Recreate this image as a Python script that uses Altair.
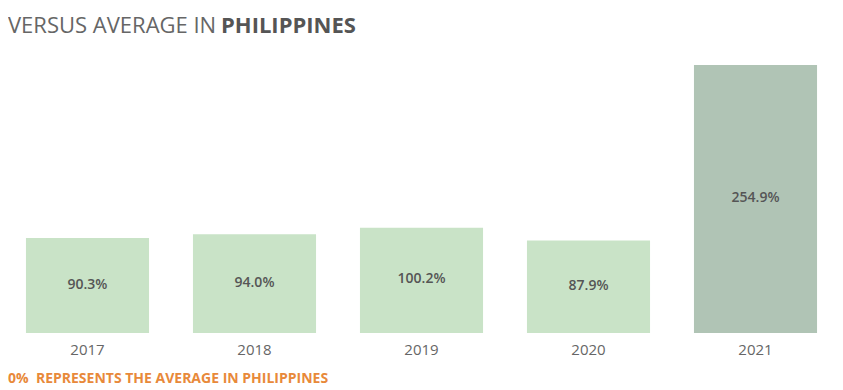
import altair as alt
import pandas as pd

years = ["2017", "2018", "2019", "2020", "2021"]
values = [90.3, 94.0, 100.2, 87.9, 254.9]
labels = ["90.3%", "94.0%", "100.2%", "87.9%", "254.9%"]

title_light = "VERSUS AVERAGE IN"
title_bold = "PHILIPPINES"
footer = "0%\u00a0\u00a0REPRESENTS THE AVERAGE IN PHILIPPINES"

df = pd.DataFrame({"year": years, "value": values, "label": labels})

FONT = "Open Sans"

x = alt.X("year:N", title=None,
          scale=alt.Scale(paddingInner=0.263, paddingOuter=0.0596),
          axis=alt.Axis(domain=False, ticks=False, labelAngle=0, labelPadding=9,
                        labelFont=FONT, labelFontSize=15, labelColor="#666666"))
yscale = alt.Scale(domain=[0, 309.1], nice=False, zero=True)

base = alt.Chart(df)

bars = base.mark_bar().encode(
    x=x,
    y=alt.Y("value:Q", scale=yscale, axis=None),
    color=alt.condition(alt.datum.year == "2021", alt.value("#b0c4b5"), alt.value("#c9e3c7")),
)

text = base.transform_calculate(mid="datum.value / 2").mark_text(
    font=FONT, fontSize=14, fontWeight=600, color="#555555", baseline="middle", dy=-1
).encode(
    x=x,
    y=alt.Y("mid:Q", scale=yscale, axis=None),
    text="label:N",
)

t1 = alt.Chart(pd.DataFrame({"t": [title_light]})).mark_text(
    font=FONT, fontSize=22, fontWeight=400, color="#666666", align="left", baseline="alphabetic"
).encode(x=alt.value(-8), y=alt.value(25), text="t:N")

t2 = alt.Chart(pd.DataFrame({"t": [title_bold]})).mark_text(
    font=FONT, fontSize=22, fontWeight="bold", color="#555555", align="left", baseline="alphabetic"
).encode(x=alt.value(205), y=alt.value(25), text="t:N")

t3 = alt.Chart(pd.DataFrame({"t": [footer]})).mark_text(
    font=FONT, fontSize=14, fontWeight="bold", color="#e8893a", align="left", baseline="alphabetic"
).encode(x=alt.value(-8), y=alt.value(375), text="t:N")

chart = alt.layer(bars, text, t1, t2, t3).properties(
    width=811, height=325,
    autosize=alt.AutoSizeParams(type="none"),
    padding={"left": 8, "top": 0, "right": 0, "bottom": 57},
).configure(background="white").configure_view(strokeWidth=0)

chart.save("out.html", embed_options={"renderer": "svg", "actions": False})
